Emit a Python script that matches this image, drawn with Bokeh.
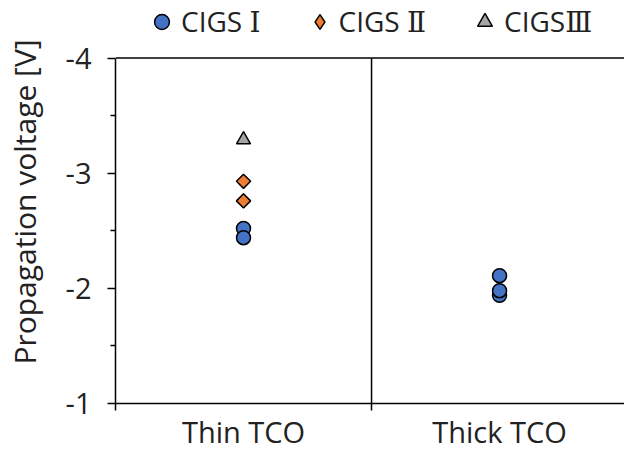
import math
from bokeh.plotting import figure
from bokeh.models import Range1d, FixedTicker, Span, Legend, LegendItem
from bokeh.embed import file_html
from bokeh.resources import INLINE

# ---- data ----
categories = ["Thin TCO", "Thick TCO"]
cat_pos = [0.5, 1.5]
series_names = ["CIGS Ⅰ", "CIGS Ⅱ", "CIGSⅢ"]

cigs1_x = [0.5, 0.5, 1.5, 1.5, 1.5]
cigs1_y = [-2.52, -2.44, -2.11, -1.94, -1.98]
cigs2_x = [0.5, 0.5]
cigs2_y = [-2.93, -2.76]
cigs3_x = [0.5]
cigs3_y = [-3.29]

y_major = [-4, -3, -2, -1]
y_major_labels = ["-4", "-3", "-2", "-1"]
y_minor = [-3.5, -2.5, -1.5]
x_bounds = [0, 1, 2]

FONT = "Open Sans"
LEGEND_FONT = "Open Sans, DejaVu Serif, Noto Sans CJK JP"

# frame reaches the top of the canvas so the legend can sit inside it,
# above the -4 line
p = figure(width=624, height=453, output_backend="svg", toolbar_location=None,
           x_range=Range1d(0, 1.988), y_range=Range1d(-1, -4.5),
           min_border_left=115, min_border_right=0, min_border_top=0,
           min_border_bottom=49)
p.background_fill_color = "white"
p.border_fill_color = "white"
p.outline_line_color = None
p.grid.visible = False

# x axis: labels at category centres, boundary ticks as minor ticks
xa = p.xaxis[0]
xa.ticker = FixedTicker(ticks=cat_pos, minor_ticks=x_bounds)
xa.major_label_overrides = {c: n for c, n in zip(cat_pos, categories)}
xa.major_tick_in = 0
xa.major_tick_out = 0
xa.minor_tick_in = 0
xa.minor_tick_out = 7
xa.axis_line_width = 1.5
xa.minor_tick_line_width = 1.5
xa.major_label_text_font = FONT
xa.major_label_text_font_size = "29px"
xa.major_label_text_color = "#222222"
xa.major_label_standoff = 1

ya = p.yaxis[0]
ya.bounds = (y_major[0], y_major[-1])
ya.ticker = FixedTicker(ticks=y_major, minor_ticks=y_minor)
ya.major_label_overrides = {v: s for v, s in zip(y_major, y_major_labels)}
ya.major_tick_in = 0
ya.major_tick_out = 8
ya.minor_tick_in = 0
ya.minor_tick_out = 5
ya.axis_line_width = 1.5
ya.major_tick_line_width = 1.5
ya.minor_tick_line_width = 1.5
ya.major_label_text_font = FONT
ya.major_label_text_font_size = "29px"
ya.major_label_text_color = "#222222"
ya.major_label_standoff = 16
ya.axis_label = "Propagation voltage [V]"
ya.axis_label_text_font = FONT
ya.axis_label_text_font_size = "30px"
ya.axis_label_text_font_style = "normal"
ya.axis_label_text_color = "#222222"
ya.axis_label_standoff = 18

# top border line at the -4 limit
p.add_layout(Span(location=y_major[0], dimension="width", line_color="black",
                  line_width=1.5))
# divider between the two categories
p.segment(x0=[x_bounds[1]], y0=[y_major[0]], x1=[x_bounds[1]], y1=[y_major[-1]],
          line_color="black", line_width=1.5)

r1 = p.scatter(cigs1_x, cigs1_y, marker="circle", size=14, fill_color="#4472C4",
               line_color="black", line_width=1.5)
r2 = p.scatter(cigs2_x, cigs2_y, marker="square", size=10, angle=math.pi / 4,
               fill_color="#ED7D31", line_color="black", line_width=1.5)
r3 = p.scatter(cigs3_x, cigs3_y, marker="triangle", size=14, fill_color="#A5A5A5",
               line_color="black", line_width=1.5)
# legend key with an upright diamond symbol (a NaN point, so nothing is plotted)
r2_key = p.scatter(x=[cigs2_x[0]], y=[float("nan")], marker="diamond",
                   fill_color="#ED7D31", line_color="black", line_width=1.5)

legend = Legend(items=[LegendItem(label=series_names[0], renderers=[r1]),
                       LegendItem(label=series_names[1], renderers=[r2_key]),
                       LegendItem(label=series_names[2], renderers=[r3])],
                orientation="horizontal", location=(28, 363),
                border_line_color=None, background_fill_alpha=0,
                label_text_font=LEGEND_FONT, label_text_font_size="28px",
                label_text_color="#222222", spacing=40, label_standoff=1,
                glyph_width=37, glyph_height=37, padding=0, margin=0)
p.add_layout(legend, "center")

open("out.html", "w").write(file_html(p, INLINE))
